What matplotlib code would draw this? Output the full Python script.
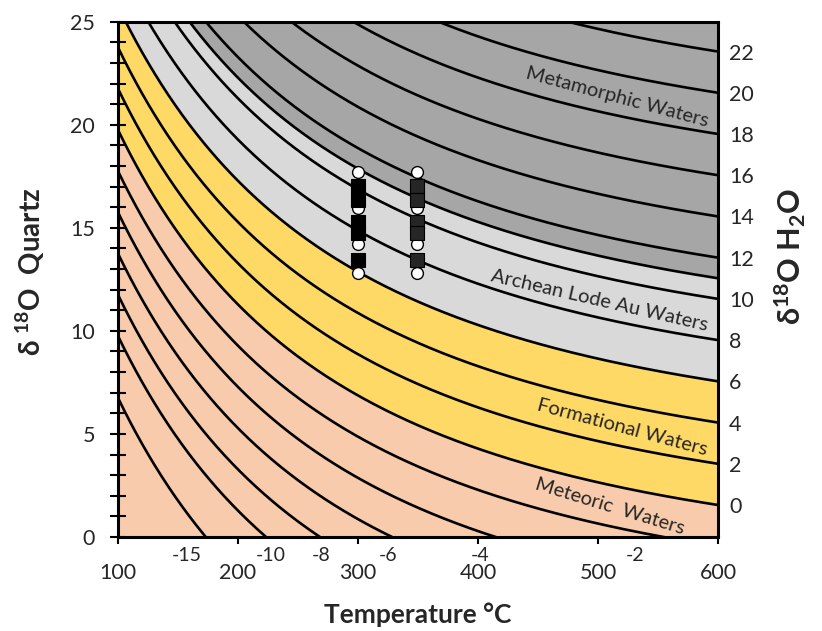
import numpy as np
import matplotlib
matplotlib.use("Agg")
import matplotlib.pyplot as plt

plt.rcParams['font.family'] = ['Lato', 'Noto Sans', 'DejaVu Sans']
plt.rcParams['mathtext.fontset'] = 'custom'
plt.rcParams['mathtext.rm'] = 'Lato'
plt.rcParams['mathtext.bf'] = 'Lato:bold'
plt.rcParams['mathtext.it'] = 'Lato:italic'

# ---------------- data ----------------
# water d18O isopleths (per mil); first (lowest) curve is the one tagged "-15" at the bottom
water_curves = [-13, -10, -8, -6, -4, -2, 0, 2, 4, 6, 8, 10, 11, 12, 14, 16, 18, 20, 22]
right_labels = [0, 2, 4, 6, 8, 10, 12, 14, 16, 18, 20, 22]
bottom_labels = ['-15', '-10', '-8', '-6', '-4', '-2']
bottom_label_T = [157, 227, 269, 325, 402, 531]

# fluid fields (bounded by water isopleths)
zone_bounds = [0, 6, 11]
zone_colors = ['#F8CBAD', '#FFD966', '#D9D9D9', '#A6A6A6']
zone_names = ['Meteoric  Waters', 'Formational Waters', 'Archean Lode Au Waters', 'Metamorphic Waters']
zone_label_T = [510, 520, 501, 516]
zone_label_q = [1.5, 5.3, 11.45, 21.35]
zone_label_rot = [-17, -15, -13, -15]

# quartz samples
sample_T = [300, 349]
circle_q = [17.72, 15.96, 14.2, 12.83]
square_q = [17.05, 16.35, 15.3, 14.75, 13.45]
square_colors = ['#000000', '#262626']

# quartz-water fractionation (1000 ln a) fitted to the drawn isopleths
FRAC_A, FRAC_B, FRAC_C = 3.2027e6, -0.3914e3, -2.2


def frac(t_c):
    tk = np.asarray(t_c, dtype=float) + 273.15
    return FRAC_A / tk ** 2 + FRAC_B / tk + FRAC_C


# ---------------- figure ----------------
fig = plt.figure(figsize=(8.22, 6.31), dpi=100)
ax = fig.add_axes([118 / 822, 1 - 537 / 631, 600 / 822, (537 - 21.7) / 631])

T = np.linspace(100, 600, 600)
D = frac(T)

edges = [-20] + list(zone_bounds) + [60]
for i, col in enumerate(zone_colors):
    lo = edges[i] + (D if i > 0 else 0)
    hi = edges[i + 1] + (D if i < len(zone_colors) - 1 else 0)
    ax.fill_between(T, lo, hi, color=col, lw=0, zorder=1)

for w in water_curves:
    ax.plot(T, w + D, color='black', lw=1.9, zorder=2, solid_capstyle='butt')

for name, t, q, r in zip(zone_names, zone_label_T, zone_label_q, zone_label_rot):
    ax.text(t, q, name, rotation=r, rotation_mode='anchor', ha='center', va='center',
            fontsize=14.5, color='#262626', zorder=3)

for t, sc in zip(sample_T, square_colors):
    ax.plot([t] * len(circle_q), circle_q, 'o', ms=8.5, mfc='white', mec='black', mew=1.0,
            zorder=5, ls='none')
    ax.plot([t] * len(square_q), square_q, 's', ms=9.5, mfc=sc, mec='black', mew=0.8,
            zorder=6, ls='none')

ax.set_xlim(100, 600)
ax.set_ylim(0, 25)

for s in ax.spines.values():
    s.set_linewidth(2.2)
    s.set_color('black')
    s.set_zorder(10)

ax.set_xticks([100, 200, 300, 400, 500, 600])
ax.set_yticks([0, 5, 10, 15, 20, 25])
ax.set_yticks(np.arange(0, 26, 1), minor=True)
ax.tick_params(axis='x', direction='out', length=5, width=1.5, pad=14, labelsize=15.5,
               colors='black', labelcolor='#262626')
ax.tick_params(axis='y', which='both', direction='inout', length=11, width=1.5, pad=11,
               labelsize=15.5, labelcolor='#262626')
ax.tick_params(axis='y', which='minor', labelleft=False)

for lbl, t in zip(bottom_labels, bottom_label_T):
    ax.annotate(lbl, xy=(t, 0), xycoords=('data', 'axes fraction'), xytext=(0, -13),
                textcoords='offset points', ha='center', va='center', fontsize=14,
                color='#262626')

ax2 = ax.twinx()
ax2.set_ylim(0, 25)
ax2.set_yticks([w + float(frac(600)) for w in right_labels])
ax2.set_yticklabels([str(w) for w in right_labels])
ax2.tick_params(axis='y', length=0, pad=8, labelsize=15.5, labelcolor='#262626')
for s in ax2.spines.values():
    s.set_visible(False)

ax.set_xlabel('Temperature °C', fontsize=19, fontweight='bold', labelpad=14, color='#262626')
fig.text(30 / 822, 1 - 272 / 631, r'δ $\mathbf{^{18}}$O  Quartz', rotation=90, ha='center',
         va='center', fontsize=20, fontweight='bold', color='#262626')
fig.text(790 / 822, 1 - 256 / 631, r'δ$\mathbf{^{18}}$O H$\mathbf{_{2}}$O', rotation=90,
         ha='center', va='center', fontsize=22, fontweight='bold', color='#262626')

fig.savefig('out.png', dpi=100)
